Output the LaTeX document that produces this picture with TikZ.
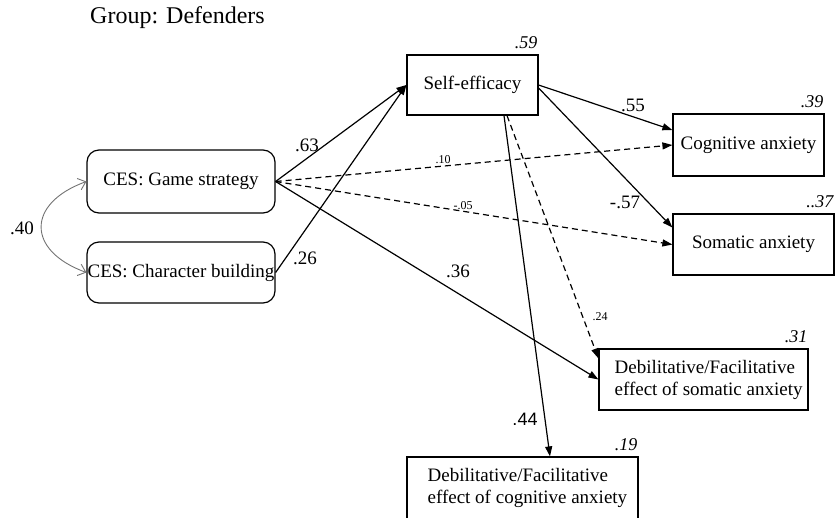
\documentclass[tikz,border=0pt]{standalone}
\usepackage{fontspec}
\setmainfont{Liberation Serif}
\newfontfamily\arialfont{Liberation Sans}
\usetikzlibrary{arrows.meta}

\tikzset{
  box/.style={draw=black, line width=1.2pt, inner sep=0pt, font=\fontsize{19}{22}\selectfont},
  roundbox/.style={box, rounded corners=12pt},
  boxtext/.style={anchor=west, align=left, inner sep=0pt, font=\fontsize{19}{22}\selectfont},
  rsq/.style={anchor=south east, inner sep=0pt, yshift=5pt, xshift=-1pt, font=\fontsize{18}{20}\itshape},
  path/.style={line width=1.2pt, -{Triangle[length=10pt,width=7pt]}},
  nspath/.style={path, dash pattern=on 6pt off 4pt},
  coef/.style={inner sep=0pt, font=\fontsize{19}{22}\selectfont},
  smallcoef/.style={inner sep=0pt, font=\fontsize{12}{14}\selectfont},
  corr/.style={draw=black!55, line width=0.9pt, {Straight Barb[length=7pt,width=12pt]}-{Straight Barb[length=7pt,width=12pt]}}
}

\begin{document}
\begin{tikzpicture}[x=1pt, y=1pt]
\useasboundingbox (0,0) rectangle (840,-517);

\node[anchor=west, inner sep=0pt, font=\fontsize{24}{26}\selectfont] (title) at (90,-18) {Group: Defenders};

% exogenous predictors
\node[roundbox, minimum width=188, minimum height=63] (gs) at (181,-181.5) {CES: Game strategy};
\node[roundbox, minimum width=188, minimum height=61] (cb) at (181,-272.5) {CES: Character building};

% mediator and outcomes
\node[box, minimum width=131, minimum height=60] (se) at (472.5,-85) {Self-efficacy};
\node[box, minimum width=151, minimum height=62] (ca) at (748.5,-145) {Cognitive anxiety};
\node[box, minimum width=161, minimum height=61] (sa) at (753.5,-244.5) {Somatic anxiety};
\node[box, minimum width=209, minimum height=61] (ds) at (703.5,-379.5) {};
\node[boxtext] (dstext) at ([xshift=16pt]ds.west) {Debilitative/Facilitative\\effect of somatic anxiety};
\node[box, minimum width=231, minimum height=64] (dc) at (522.5,-489) {};
\node[boxtext] (dctext) at ([xshift=21pt,yshift=1.5pt]dc.west) {Debilitative/Facilitative\\effect of cognitive anxiety};

% explained variance
\node[rsq] (r2se) at (se.north east) {.59};
\node[rsq] (r2ca) at (ca.north east) {.39};
\node[rsq] (r2sa) at (sa.north east) {..37};
\node[rsq] (r2ds) at (ds.north east) {.31};
\node[rsq] (r2dc) at (dc.north east) {.19};

% correlation between predictors
\draw[corr] (gs.west) to[out=200, in=160, looseness=1.8] (cb.west);
\node[coef] (c40) at (22,-228) {.40};

% structural paths
\draw[path] (gs.east) -- (se.west);
\draw[path] (cb.east) -- (se.west);
\draw[nspath] (gs.east) -- (ca.west);
\draw[nspath] (gs.east) -- (sa.west);
\draw[path] (gs.east) -- (ds.west);
\draw[path] (se.east) -- ([yshift=15pt]ca.west);
\draw[path] ([yshift=-3pt]se.east) -- ([yshift=17pt]sa.west);
\draw[nspath] ([xshift=34.5pt]se.south) -- ([yshift=-10pt]ds.north west);
\draw[path] ([xshift=31.5pt]se.south) -- ([xshift=27.5pt]dc.north);

% path coefficients
\node[coef] (p63) at (307,-145) {.63};
\node[coef] (p26) at (305,-258) {.26};
\node[smallcoef] (p10) at (443,-160) {.10};
\node[smallcoef] (p05) at (463,-206) {-.05};
\node[coef] (p36) at (458,-271) {.36};
\node[coef] (p55) at (633,-105) {.55};
\node[coef] (p57) at (625,-202) {-.57};
\node[smallcoef] (p24) at (600,-317) {.24};
\node[coef, font=\arialfont\fontsize{18}{20}\selectfont] (p44) at (525,-419) {.44};
\end{tikzpicture}
\end{document}
